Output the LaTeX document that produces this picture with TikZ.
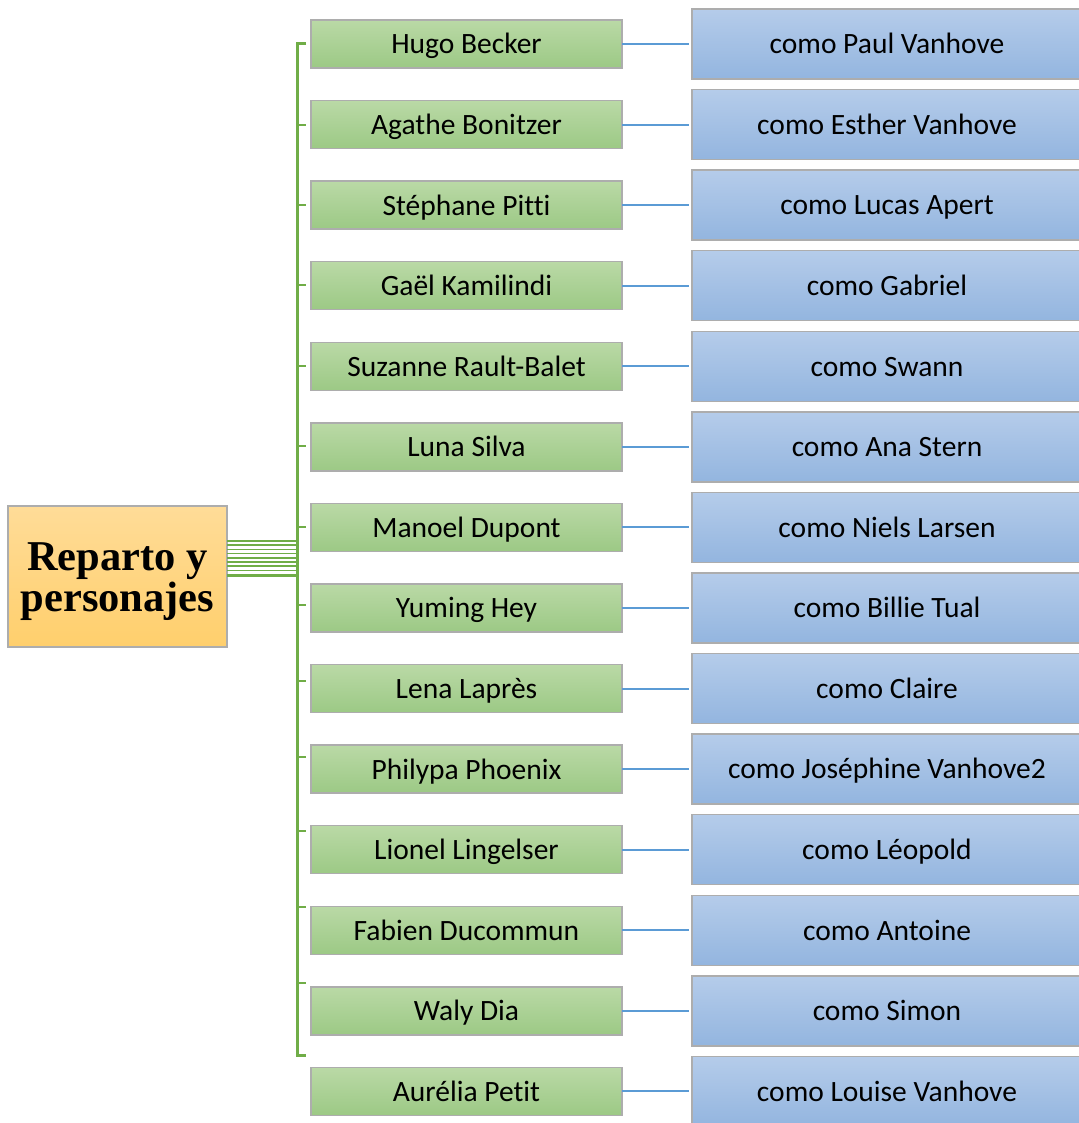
\documentclass[tikz,border=0pt]{standalone}
\usepackage{fontspec}
\setmainfont{Carlito}[Ligatures={NoCommon}]
\newfontfamily\rootfont{Liberation Serif}
\usetikzlibrary{calc}
\definecolor{brk}{HTML}{70AD47}
\definecolor{lnk}{HTML}{5B9BD5}
\definecolor{gtop}{HTML}{BAD9A6}
\definecolor{gbot}{HTML}{9CC985}
\definecolor{btop}{HTML}{B5CCEA}
\definecolor{bbot}{HTML}{93B5DF}
\definecolor{otop}{HTML}{FFDC98}
\definecolor{obot}{HTML}{FFCF6C}
\tikzset{
  boxbase/.style={rectangle, draw=black!32, line width=1.5pt, inner sep=0pt, outer sep=0pt, text=black},
  rootbox/.style={boxbase, minimum width=219pt, minimum height=141pt, top color=otop, bottom color=obot, align=center,
    font=\rootfont\bfseries\fontsize{42.5}{41.5}\selectfont},
  actor/.style={boxbase, minimum width=311pt, minimum height=48pt, top color=gtop, bottom color=gbot,
    font=\fontsize{29.5}{33}\selectfont, text height=26pt, text depth=6pt},
  role/.style={boxbase, minimum width=390pt, minimum height=70pt, top color=btop, bottom color=bbot,
    font=\fontsize{29.5}{33}\selectfont, text height=25.5pt, text depth=6pt},
  link/.style={draw=lnk, line width=2pt, shorten >=3pt},
  bracket/.style={draw=brk, line width=3pt},
  rootline/.style={draw=brk, line width=1.6pt},
}
\begin{document}
\begin{tikzpicture}[x=1pt,y=-1pt]
\useasboundingbox (0,0) rectangle (1078,1123);
\fill[white] (0,0) rectangle (1078,1123);

% cast rows
\foreach \a/\b [count=\i from 0] in {
  Hugo Becker/como Paul Vanhove,
  Agathe Bonitzer/como Esther Vanhove,
  Stéphane Pitti/como Lucas Apert,
  Gaël Kamilindi/como Gabriel,
  Suzanne Rault-Balet/como Swann,
  Luna Silva/como Ana Stern,
  Manoel Dupont/como Niels Larsen,
  Yuming Hey/como Billie Tual,
  Lena Laprès/como Claire,
  Philypa Phoenix/como Joséphine Vanhove2,
  Lionel Lingelser/como Léopold,
  Fabien Ducommun/como Antoine,
  Waly Dia/como Simon,
  Aurélia Petit/como Louise Vanhove}{
  \pgfmathsetmacro\yy{44+80.57*\i}
  \node[actor] (g\i) at (466.5,\yy) {\a};
  \node[role] (b\i) at (887,\yy) {\b};
  \draw[link] (g\i.east) -- (b\i.west);
}

% root
\node[rootbox] (root) at (117.5,576.5) {\rule{0pt}{38pt}Reparto y\\personajes};

% bracket
\coordinate (brtop) at (297,44);
\coordinate (brbot) at (297,1055);
\coordinate (tktop) at (306,44);
\coordinate (tkbot) at (306,1055);
\draw[bracket] (tktop) -- (brtop) -- (brbot) -- (tkbot);
\foreach \t [count=\k] in {125,205,285,366,446,527,605,681,757,831,907,983}{
  \coordinate (ta\k) at (297,\t);
  \coordinate (tb\k) at (306,\t);
  \draw[bracket, line width=2.2pt] (ta\k) -- (tb\k);
}

% root connectors
\foreach \r [count=\k] in {541,545.2,549.4,553.6,557.8,562,566.2,570.4}{
  \coordinate (rc\k) at (297,\r);
  \draw[rootline] (root.east |- rc\k) -- (rc\k);
}
\coordinate (rcl) at (297,575.5);
\draw[rootline, line width=3pt] (root.east |- rcl) -- (rcl);
\end{tikzpicture}
\end{document}
